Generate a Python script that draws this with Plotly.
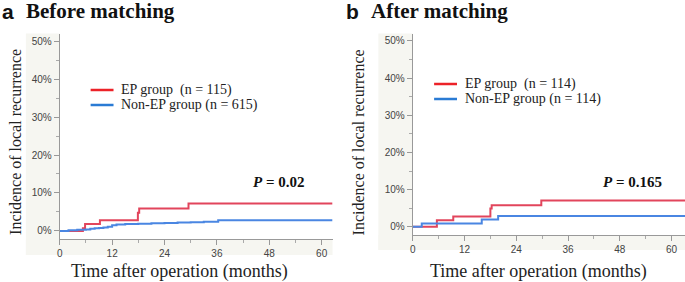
import plotly.graph_objects as go

# ---- data ----
a_ep_t = [0, 5.3, 5.8, 9.2, 17.9, 18.2, 29.5, 62.5]
a_ep_v = [0, 0.7, 1.8, 2.8, 4.8, 5.9, 7.2, 7.2]
a_non_t = [0, 2, 4, 6, 7, 8, 9, 10, 11, 12, 13, 15, 18, 21, 24, 27, 30, 33, 36.3, 62.5]
a_non_v = [0, 0.2, 0.3, 0.4, 0.6, 0.7, 0.8, 0.9, 1.1, 1.5, 1.7, 1.8, 1.9, 2.0, 2.1, 2.2, 2.3, 2.4, 2.8, 2.8]

b_ep_t = [0, 5.6, 9.4, 18.0, 18.3, 29.8, 63.1]
b_ep_v = [0, 1.8, 2.8, 4.9, 5.8, 7.1, 7.1]
b_non_t = [0, 2.1, 16.0, 19.8, 63.1]
b_non_v = [0, 0.9, 2.0, 2.9, 2.9]

x_ticks = [0, 12, 24, 36, 48, 60]
y_ticks = [0, 10, 20, 30, 40, 50]
y_ticklabels = ["0%", "10%", "20%", "30%", "40%", "50%"]

panel_titles = ["Before matching", "After matching"]
panel_letters = ["a", "b"]
legend_labels_a = ["EP group  (n = 115)", "Non-EP group (n = 615)"]
legend_labels_b = ["EP group  (n = 114)", "Non-EP group (n = 114)"]
p_values = ["0.02", "0.165"]
x_title = "Time after operation (months)"
y_title = "Incidence of local recurrence"

# ---- style ----
RED = "#e2455c"
BLUE = "#4a86e2"
LEG_RED = "#ec2228"
LEG_BLUE = "#2a7bd4"
BG = "#f6f6f1"
SERIF = "Liberation Serif, Times New Roman, serif"
SANS = "Liberation Sans, Arial, sans-serif"
W, H = 685, 282

def px(x):
    return x / W

def py(y):
    return 1 - y / H

fig = go.Figure()

fig.add_trace(go.Scatter(x=a_ep_t, y=a_ep_v, mode="lines", line=dict(color=RED, width=2, shape="hv"),
                         xaxis="x", yaxis="y", showlegend=False))
fig.add_trace(go.Scatter(x=a_non_t, y=a_non_v, mode="lines", line=dict(color=BLUE, width=2, shape="hv"),
                         xaxis="x", yaxis="y", showlegend=False))
fig.add_trace(go.Scatter(x=b_ep_t, y=b_ep_v, mode="lines", line=dict(color=RED, width=2, shape="hv"),
                         xaxis="x2", yaxis="y2", showlegend=False))
fig.add_trace(go.Scatter(x=b_non_t, y=b_non_v, mode="lines", line=dict(color=BLUE, width=2, shape="hv"),
                         xaxis="x2", yaxis="y2", showlegend=False))

tickfont = dict(family=SANS, size=10, color="#444")

def xaxis(domain, anchor, rmax):
    return dict(domain=domain, anchor=anchor, range=[0, rmax], tickvals=x_ticks,
                ticks="outside", ticklen=5, tickcolor="#999", tickfont=tickfont,
                showline=True, linecolor="#999", linewidth=1, showgrid=False, zeroline=False,
                minor=dict(dtick=6, tick0=0, ticks="outside", ticklen=3, tickcolor="#aaa", showgrid=False),
                fixedrange=True)

def yaxis(domain, anchor):
    return dict(domain=domain, anchor=anchor, range=[-2.2, 52], tickvals=y_ticks, ticktext=y_ticklabels,
                ticks="outside", ticklen=5, tickcolor="#999", tickfont=tickfont,
                showline=True, linecolor="#999", linewidth=1, showgrid=False, zeroline=False,
                minor=dict(dtick=5, tick0=0, ticks="outside", ticklen=3, tickcolor="#aaa", showgrid=False),
                fixedrange=True)

shapes = [
    # panel a: left band and bottom band
    dict(type="rect", xref="paper", yref="paper", x0=px(23), x1=px(57), y0=py(255), y1=py(33.5),
         fillcolor=BG, line=dict(width=0), layer="below"),
    dict(type="rect", xref="paper", yref="paper", x0=px(23), x1=px(331), y0=py(255), y1=py(239.3),
         fillcolor=BG, line=dict(width=0), layer="below"),
    # panel b
    dict(type="rect", xref="paper", yref="paper", x0=px(377), x1=px(411.5), y0=py(250), y1=py(33.5),
         fillcolor=BG, line=dict(width=0), layer="below"),
    dict(type="rect", xref="paper", yref="paper", x0=px(377), x1=px(685), y0=py(250), y1=py(235),
         fillcolor=BG, line=dict(width=0), layer="below"),
]

annotations = []

# panel titles
for lx, tx, letter, title in [(-3, 21, panel_letters[0], panel_titles[0]),
                               (342, 368, panel_letters[1], panel_titles[1])]:
    annotations.append(dict(x=px(lx), y=py(11), xref="paper", yref="paper", xanchor="left", yanchor="middle",
                            text="<b>%s</b>" % letter, showarrow=False,
                            font=dict(family=SANS, size=21, color="#111")))
    annotations.append(dict(x=px(tx), y=py(11), xref="paper", yref="paper", xanchor="left", yanchor="middle",
                            text="<b>%s</b>" % title, showarrow=False,
                            font=dict(family=SERIF, size=21, color="#111")))

# axis titles
for cx in [177, 538]:
    annotations.append(dict(x=px(cx), y=py(271), xref="paper", yref="paper", xanchor="center", yanchor="middle",
                            text=x_title, showarrow=False, font=dict(family=SERIF, size=18, color="#222")))
for cx, cy in [(12, 142), (357, 142)]:
    annotations.append(dict(x=px(cx), y=py(cy), xref="paper", yref="paper", xanchor="center", yanchor="middle",
                            text=y_title, textangle=-90, showarrow=False,
                            font=dict(family=SERIF, size=16, color="#222")))

# legends (line samples + labels)
for (lx0, lx1, tx, ry, by, labels) in [(88, 111, 117, 90, 105, legend_labels_a),
                                        (433, 456, 462, 84, 99, legend_labels_b)]:
    shapes.append(dict(type="line", xref="paper", yref="paper", x0=px(lx0), x1=px(lx1), y0=py(ry), y1=py(ry),
                       line=dict(color=LEG_RED, width=2.5)))
    shapes.append(dict(type="line", xref="paper", yref="paper", x0=px(lx0), x1=px(lx1), y0=py(by), y1=py(by),
                       line=dict(color=LEG_BLUE, width=2.5)))
    for yy, lab in [(ry, labels[0]), (by, labels[1])]:
        annotations.append(dict(x=px(tx), y=py(yy), xref="paper", yref="paper", xanchor="left", yanchor="middle",
                                text=lab, showarrow=False, font=dict(family=SERIF, size=14, color="#222")))

# P values
for cx, pv in [(277, p_values[0]), (632, p_values[1])]:
    annotations.append(dict(x=px(cx), y=py(182), xref="paper", yref="paper", xanchor="center", yanchor="middle",
                            text="<b><i>P</i> = %s</b>" % pv, showarrow=False,
                            font=dict(family=SERIF, size=15, color="#111")))

fig.update_layout(
    width=W, height=H, margin=dict(l=0, r=0, t=0, b=0),
    paper_bgcolor="white", plot_bgcolor="white",
    xaxis=xaxis([px(57), px(331)], "y", 62.5),
    yaxis=yaxis([py(239.3), py(33.5)], "x"),
    xaxis2=xaxis([px(411.5), 1.0], "y2", 63.1),
    yaxis2=yaxis([py(235), py(33.5)], "x2"),
    shapes=shapes, annotations=annotations, showlegend=False,
)

fig.write_html("out.html", config={"displayModeBar": False},
               post_script="document.body.style.margin='0';document.body.style.overflow='hidden';")
